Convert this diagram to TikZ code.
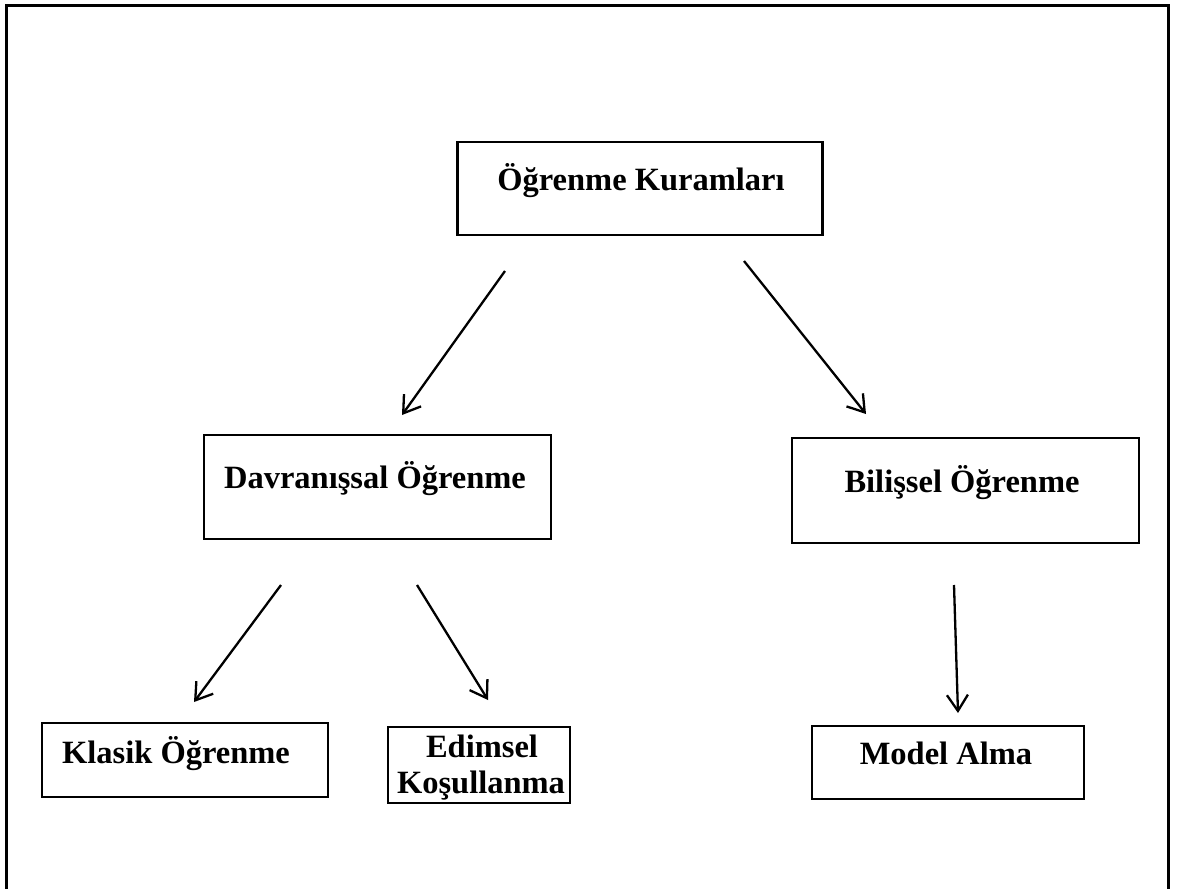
\documentclass[tikz,border=0pt]{standalone}
\usepackage{fontspec}
\setmainfont{Liberation Serif}
\usetikzlibrary{arrows.meta}
\tikzset{
  box/.style={draw, line width=2.6pt, rectangle, inner sep=0pt},
  lbl/.style={anchor=base, inner sep=0pt, font=\fontsize{32.5}{36}\selectfont\bfseries},
  arr/.style={line width=2.3pt, -{Straight Barb[length=16pt,width=21pt,line width=2.3pt]}},
  frame/.style={draw, line width=3pt}
}
\begin{document}
\begin{tikzpicture}[x=1pt,y=-1pt]
\useasboundingbox (0,0) rectangle (1184,889);
\clip (0,0) rectangle (1184,889);
\draw[frame] (6.5,5.5) rectangle (1168.5,905);

% boxes
\node[box, minimum width=365pt, minimum height=93pt] (k) at (640,188.5) {};
\node[box, minimum width=347pt, minimum height=104pt] (d) at (377.5,487) {};
\node[box, minimum width=347pt, minimum height=105pt] (b) at (965.5,490.5) {};
\node[box, minimum width=286pt, minimum height=74pt] (kl) at (185,760) {};
\node[box, minimum width=182pt, minimum height=76pt] (e) at (479,765) {};
\node[box, minimum width=272pt, minimum height=73pt] (m) at (948,762.5) {};

% labels
\node[lbl] (kt) at (641,190) {Öğrenme Kuramları};
\node[lbl] (dt) at (375,488) {Davranışsal Öğrenme};
\node[lbl] (bt) at (962,492) {Bilişsel Öğrenme};
\node[lbl] (klt) at (176,763) {Klasik Öğrenme};
\node[lbl] (et1) at (482,757) {Edimsel};
\node[lbl] (et2) at (481,793) {Koşullanma};
\node[lbl] (mt) at (946,764) {Model Alma};

% arrow endpoints
\coordinate (a1s) at (505,271);
\coordinate (a1e) at (402,415);
\coordinate (a2s) at (744,261);
\coordinate (a2e) at (866,414);
\coordinate (a3s) at (281,585);
\coordinate (a3e) at (194,702);
\coordinate (a4s) at (417,585);
\coordinate (a4e) at (488,700);
\coordinate (a5s) at (954,585);
\coordinate (a5e) at (958,713);

\draw[arr] (a1s) -- (a1e);
\draw[arr] (a2s) -- (a2e);
\draw[arr] (a3s) -- (a3e);
\draw[arr] (a4s) -- (a4e);
\draw[arr] (a5s) -- (a5e);
\end{tikzpicture}
\end{document}
